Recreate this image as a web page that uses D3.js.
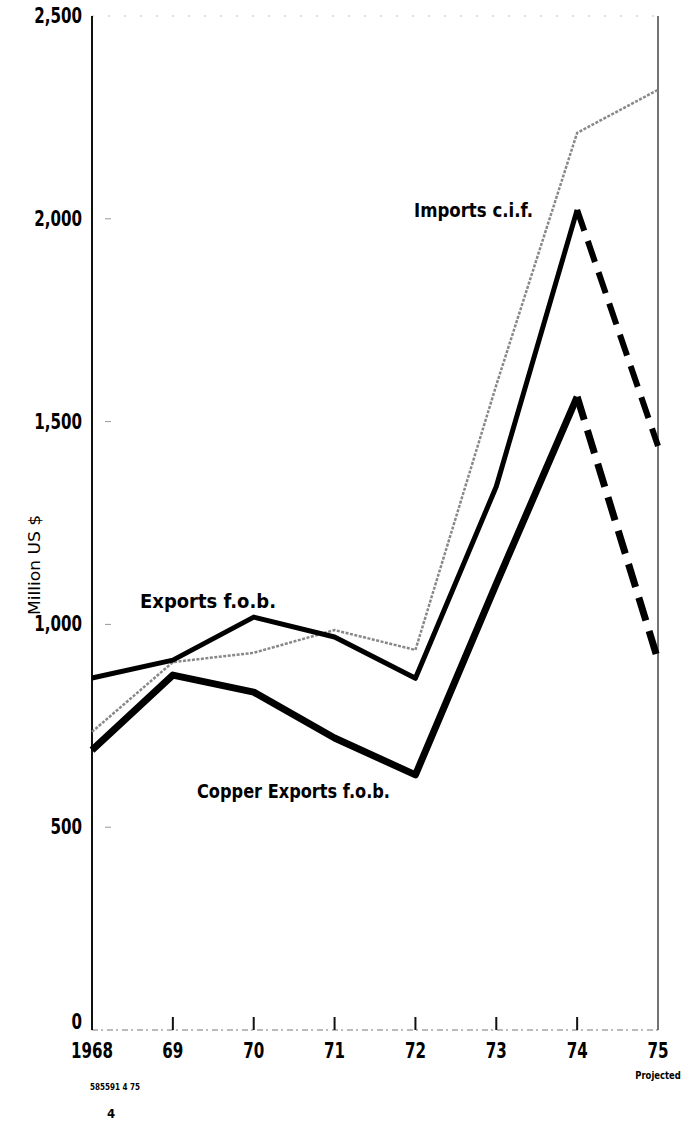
<!DOCTYPE html>
<html>
<head>
<meta charset="utf-8">
<script src="https://cdn.jsdelivr.net/npm/d3@7"></script>
<style>
  body { margin: 0; background: #fff; }
  text { font-family: "Liberation Sans Narrow", "DejaVu Sans Condensed", sans-serif; }
</style>
</head>
<body>
<div id="chart"></div>
<script>
// values (million US $)
let years = [1968, 1969, 1970, 1971, 1972, 1973, 1974, 1975];
let yearLabels = ["1968", "69", "70", "71", "72", "73", "74", "75"];
let exportsFob = [868, 912, 1018, 969, 867, 1340, 2022, 1440];
let copperFob = [690, 875, 833, 720, 629, 1100, 1561, 912];
let importsCif = [735, 907, 930, 986, 937, 1590, 2212, 2318];
let yTicks = [0, 500, 1000, 1500, 2000, 2500];

let width = 693, height = 1125;

let svg = d3.select("#chart")
  .append("svg")
  .attr("width", width)
  .attr("height", height);

let x = d3.scaleLinear().domain([1968, 1975]).range([92, 658]);
let y = d3.scaleLinear().domain([0, 2500]).range([1030, 16]);

// frame: faint top and bottom lines, solid left, thin right
svg.append("line")
  .attr("x1", x(1968)).attr("x2", x(1975))
  .attr("y1", y(2500)).attr("y2", y(2500))
  .attr("stroke", "#bbb").attr("stroke-width", 1)
  .style("stroke-dasharray", "2,14");

svg.append("line")
  .attr("x1", x(1968)).attr("x2", x(1975))
  .attr("y1", y(0)).attr("y2", y(0))
  .attr("stroke", "#777").attr("stroke-width", 1)
  .style("stroke-dasharray", "6,3,2,4");

svg.append("line")
  .attr("x1", x(1968)).attr("x2", x(1968))
  .attr("y1", y(2500)).attr("y2", y(0))
  .attr("stroke", "#111").attr("stroke-width", 2);

svg.append("line")
  .attr("x1", x(1975)).attr("x2", x(1975))
  .attr("y1", y(2500)).attr("y2", y(0))
  .attr("stroke", "#444").attr("stroke-width", 1.5);

// y ticks: little faint dashes + labels
svg.append("g")
  .selectAll("line")
  .data(yTicks.filter(d => d > 0 && d < 2500))
  .enter()
  .append("line")
  .attr("x1", x(1968) + 13).attr("x2", x(1968) + 19)
  .attr("y1", d => y(d)).attr("y2", d => y(d))
  .attr("stroke", "#999").attr("stroke-width", 1);

// condensed look: squeeze the labels horizontally
svg.append("g")
  .selectAll("text")
  .data(yTicks)
  .enter()
  .append("text")
  .attr("transform", d => "translate(82," + (y(d) + (d == 0 ? -1 : 7)) + ")scale(0.8,1)")
  .attr("text-anchor", "end")
  .style("font-size", "21px")
  .style("font-weight", "bold")
  .text(d => d3.format(",")(d));

// x ticks rising from the bottom line
svg.append("g")
  .selectAll("line")
  .data(years.slice(1, 7))
  .enter()
  .append("line")
  .attr("x1", d => x(d)).attr("x2", d => x(d))
  .attr("y1", y(0)).attr("y2", y(0) - 13)
  .attr("stroke", "#111").attr("stroke-width", 2);

svg.append("g")
  .selectAll("text")
  .data(years)
  .enter()
  .append("text")
  .attr("transform", d => "translate(" + x(d) + ",1058)scale(0.8,1)")
  .attr("text-anchor", "middle")
  .style("font-size", "21px")
  .style("font-weight", "bold")
  .text((d, i) => yearLabels[i]);

svg.append("text")
  .attr("transform", "translate(" + x(1975) + ",1079)scale(0.85,1)")
  .attr("text-anchor", "middle")
  .style("font-size", "11px")
  .style("font-weight", "bold")
  .text("Projected");

// lines: solid through 1974, dashed for projected 1975
let line = d3.line()
  .x(d => x(d[0]))
  .y(d => y(d[1]));

let actual = function(vals) { return years.slice(0, 7).map((d, i) => [d, vals[i]]); };
let projected = function(vals) { return years.slice(6).map((d, i) => [d, vals[i + 6]]); };

// Imports c.i.f. - grey dotted
svg.append("path")
  .datum(years.map((d, i) => [d, importsCif[i]]))
  .attr("fill", "none")
  .attr("stroke", "#888")
  .attr("stroke-width", 2.5)
  .style("stroke-dasharray", "3,1.5")
  .attr("d", line);

// Exports f.o.b.
svg.append("path")
  .datum(actual(exportsFob))
  .attr("fill", "none")
  .attr("stroke", "#000")
  .attr("stroke-width", 5)
  .attr("stroke-linejoin", "round")
  .attr("d", line);

svg.append("path")
  .datum(projected(exportsFob))
  .attr("fill", "none")
  .attr("stroke", "#000")
  .attr("stroke-width", 6)
  .style("stroke-dasharray", "22,11")
  .attr("d", line);

// Copper Exports f.o.b.
svg.append("path")
  .datum(actual(copperFob))
  .attr("fill", "none")
  .attr("stroke", "#000")
  .attr("stroke-width", 7)
  .attr("stroke-linejoin", "round")
  .attr("d", line);

svg.append("path")
  .datum(projected(copperFob))
  .attr("fill", "none")
  .attr("stroke", "#000")
  .attr("stroke-width", 7)
  .style("stroke-dasharray", "24,11")
  .attr("d", line);

// series labels
svg.append("text")
  .attr("x", 140).attr("y", 608)
  .attr("textLength", 136).attr("lengthAdjust", "spacingAndGlyphs")
  .style("font-size", "19px").style("font-weight", "bold")
  .text("Exports f.o.b.");

svg.append("text")
  .attr("x", 414).attr("y", 217)
  .attr("textLength", 119).attr("lengthAdjust", "spacingAndGlyphs")
  .style("font-size", "19px").style("font-weight", "bold")
  .text("Imports c.i.f.");

svg.append("text")
  .attr("x", 197).attr("y", 798)
  .attr("textLength", 193).attr("lengthAdjust", "spacingAndGlyphs")
  .style("font-size", "19px").style("font-weight", "bold")
  .text("Copper Exports  f.o.b.");

// y label
svg.append("text")
  .attr("text-anchor", "middle")
  .attr("transform", "translate(40,565)rotate(-90)")
  .attr("textLength", 100).attr("lengthAdjust", "spacingAndGlyphs")
  .style("font-size", "16px")
  .text("Million US $");

// footnotes
svg.append("text")
  .attr("x", 90).attr("y", 1090)
  .style("font-size", "8px").style("font-weight", "bold")
  .text("585591  4  75");

svg.append("text")
  .attr("x", 107).attr("y", 1118)
  .style("font-size", "13px").style("font-weight", "bold")
  .text("4");
</script>
</body>
</html>
